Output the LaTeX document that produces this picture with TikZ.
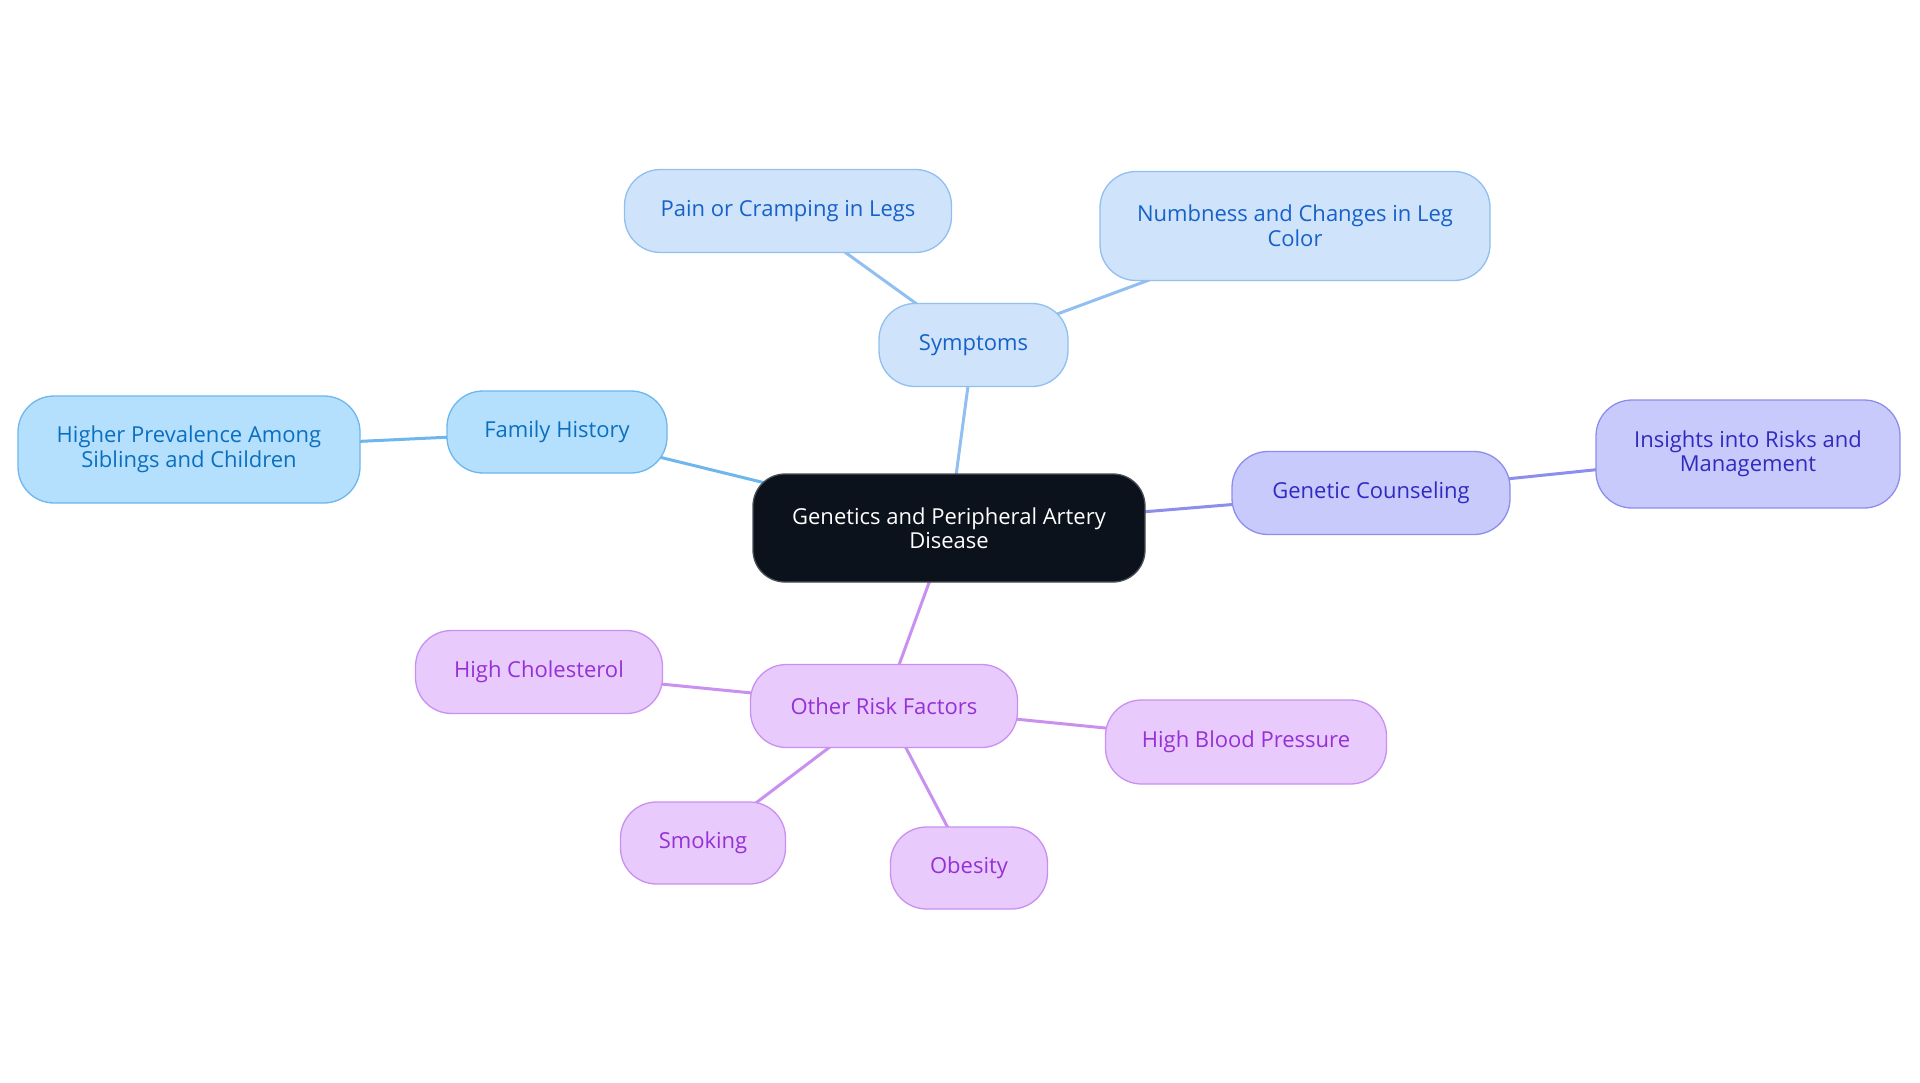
\documentclass[tikz,border=0pt]{standalone}
\usepackage{fontspec}
\setmainfont{Open Sans}
\usetikzlibrary{backgrounds}
\definecolor{cfill}{HTML}{0B121C}
\definecolor{cdraw}{HTML}{4A4F57}
\definecolor{sfill}{HTML}{CFE3FB}
\definecolor{sdraw}{HTML}{90BFF0}
\definecolor{stext}{HTML}{1662C8}
\definecolor{ffill}{HTML}{B5E0FD}
\definecolor{fdraw}{HTML}{6DB6EE}
\definecolor{ftext}{HTML}{0B6FC0}
\definecolor{gfill}{HTML}{C9CAFC}
\definecolor{gdraw}{HTML}{8C8EEE}
\definecolor{gtext}{HTML}{2F2BC0}
\definecolor{rfill}{HTML}{E8CAFD}
\definecolor{rdraw}{HTML}{C990F0}
\definecolor{rtext}{HTML}{9531D5}
\tikzset{
  box/.style={rectangle, rounded corners=36pt, align=center, inner sep=0pt, line width=1.3pt,
    font=\fontsize{22}{24.5}\selectfont},
  center/.style={box, fill=cfill, draw=cdraw, text=white, rounded corners=32pt},
  sbox/.style={box, fill=sfill, draw=sdraw, text=stext},
  fbox/.style={box, fill=ffill, draw=fdraw, text=ftext},
  gbox/.style={box, fill=gfill, draw=gdraw, text=gtext},
  rbox/.style={box, fill=rfill, draw=rdraw, text=rtext},
  link/.style={line width=3pt},
}
\begin{document}
\begin{tikzpicture}[x=1pt,y=-1pt]
\useasboundingbox (0,0) rectangle (1920,1083);
\node[center, minimum width=392pt, minimum height=108pt] (c) at (949,528) {Genetics and Peripheral Artery\\Disease};
\node[sbox, minimum width=189pt, minimum height=83pt] (s) at (973.5,345) {Symptoms};
\node[sbox, minimum width=327pt, minimum height=83pt] (s1) at (788,211) {Pain or Cramping in Legs};
\node[sbox, minimum width=390pt, minimum height=109pt] (s2) at (1295,226) {Numbness and Changes in Leg\\Color};
\node[fbox, minimum width=220pt, minimum height=82pt] (f) at (557,432) {Family History};
\node[fbox, minimum width=342pt, minimum height=107pt] (f1) at (189,449.5) {Higher Prevalence Among\\Siblings and Children};
\node[gbox, minimum width=278pt, minimum height=83pt] (g) at (1371,493) {Genetic Counseling};
\node[gbox, minimum width=304pt, minimum height=108pt] (g1) at (1748,454) {Insights into Risks and\\Management};
\node[rbox, minimum width=267pt, minimum height=83pt] (r) at (884,706) {Other Risk Factors};
\node[rbox, minimum width=247pt, minimum height=83pt] (r1) at (539,672) {High Cholesterol};
\node[rbox, minimum width=281pt, minimum height=84pt] (r2) at (1246,742) {High Blood Pressure};
\node[rbox, minimum width=165pt, minimum height=82pt] (r3) at (703,843) {Smoking};
\node[rbox, minimum width=157pt, minimum height=82pt] (r4) at (969,868) {Obesity};
\begin{scope}[on background layer]
\draw[link, draw=sdraw] (c.center) -- (s.center);
\draw[link, draw=sdraw] (s.center) -- (s1.center);
\draw[link, draw=sdraw] (s.center) -- (s2.center);
\draw[link, draw=fdraw] (c.center) -- (f.center);
\draw[link, draw=fdraw] (f.center) -- (f1.center);
\draw[link, draw=gdraw] (c.center) -- (g.center);
\draw[link, draw=gdraw] (g.center) -- (g1.center);
\draw[link, draw=rdraw] (c.center) -- (r.center);
\draw[link, draw=rdraw] (r.center) -- (r1.center);
\draw[link, draw=rdraw] (r.center) -- (r2.center);
\draw[link, draw=rdraw] (r.center) -- (r3.center);
\draw[link, draw=rdraw] (r.center) -- (r4.center);
\end{scope}
\end{tikzpicture}
\end{document}
